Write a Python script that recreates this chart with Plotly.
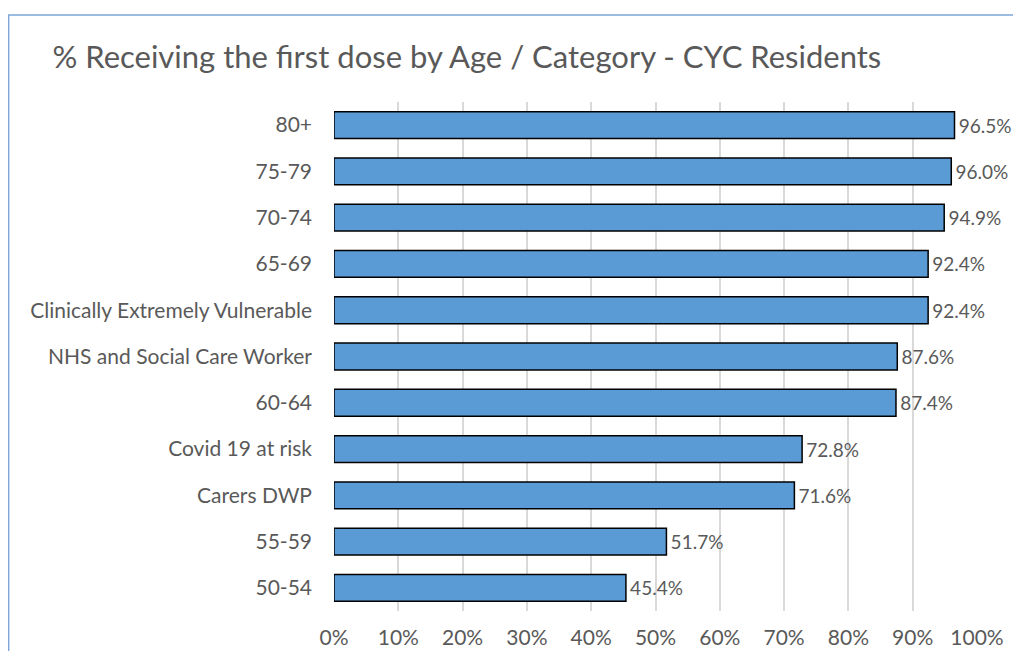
import plotly.graph_objects as go

categories = [
    "80+", "75-79", "70-74", "65-69", "Clinically Extremely Vulnerable",
    "NHS and Social Care Worker", "60-64", "Covid 19 at risk", "Carers DWP",
    "55-59", "50-54",
]
first_dose_pct = [96.5, 96.0, 94.9, 92.4, 92.4, 87.6, 87.4, 72.8, 71.6, 51.7, 45.4]
x_ticks = list(range(0, 101, 10))
x_tick_labels = [f"{t}%" for t in x_ticks]

_BAR = "#5B9BD5"
_TEXT = "#595959"
_GRID = "#D9D9D9"
_FONT = "Lato, sans-serif"

fig = go.Figure()
fig.add_trace(go.Bar(
    y=categories, x=first_dose_pct,
    orientation="h",
    marker=dict(color=_BAR, line=dict(color="#000000", width=1.5)),
    width=0.58,
    text=[f"{v:.1f}%" for v in first_dose_pct],
    texttemplate="\u200a%{text}",  # hair space keeps a small gap from the bar end
    textposition="outside",
    constraintext="none",
    cliponaxis=False,
    textfont=dict(color=_TEXT, size=19, family=_FONT),
    showlegend=False,
    hoverinfo="skip",
))

# outer chart border (cropped on right and bottom in the original)
fig.add_shape(
    type="rect", xref="paper", yref="paper",
    x0=-0.506, x1=1.2, y0=-0.3, y1=1.171,
    line=dict(color="#7EA6D8", width=1.5),
    layer="below",
)

# page body adds an 8px margin, so the figure is sized to fit the window
fig.update_layout(
    width=1013, height=643,
    paper_bgcolor="white", plot_bgcolor="white",
    margin=dict(l=326, r=44, t=94, b=40),
    title=dict(
        text="% Receiving the first dose by Age / Category - CYC Residents",
        font=dict(size=31, color=_TEXT, family=_FONT),
        x=0.453, xanchor="center", xref="container",
        y=1 - 49 / 643, yanchor="middle",
    ),
)
fig.update_xaxes(
    range=[0, 100], tickvals=x_ticks, ticktext=x_tick_labels,
    showgrid=True, gridcolor=_GRID, gridwidth=1.5,
    zeroline=False, showline=False, automargin=False,
    tickfont=dict(size=21, color=_TEXT, family=_FONT),
    ticklabelstandoff=12,
)
fig.update_yaxes(
    autorange="reversed", showgrid=False, showline=False, automargin=False,
    tickfont=dict(size=21, color=_TEXT, family=_FONT),
    ticklabelstandoff=21,
)

fig.write_html("out.html")
